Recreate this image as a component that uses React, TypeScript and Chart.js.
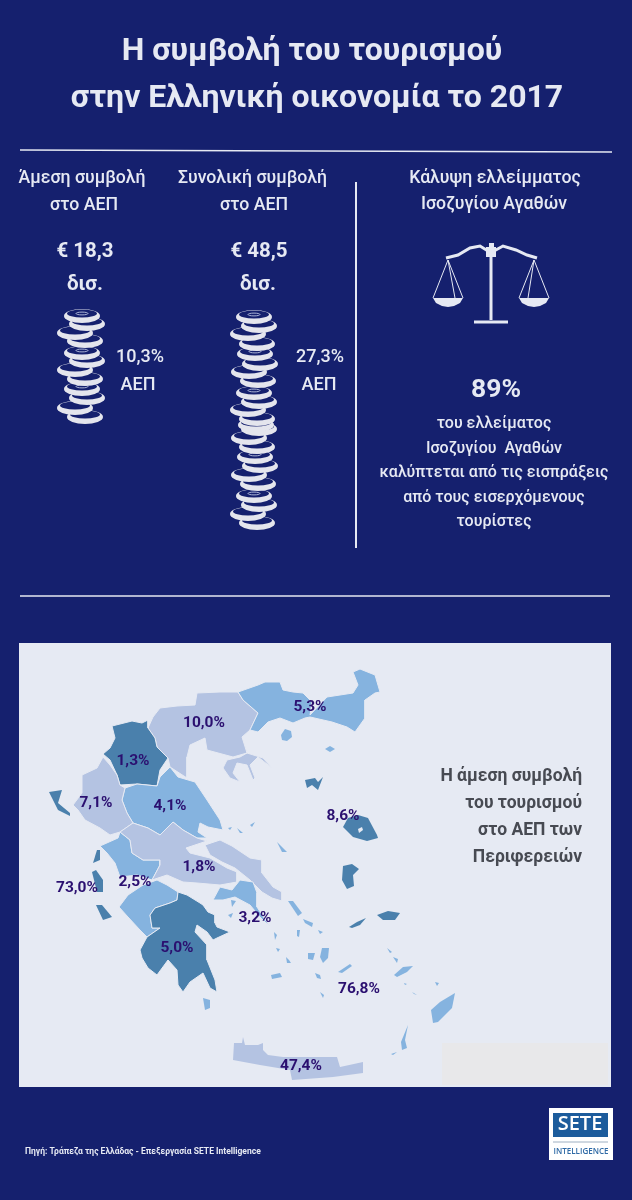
import { useEffect, useRef } from "react";
import { Chart, registerables } from "chart.js";

Chart.register(...registerables);

const BG = "#15206e";
const INK = "#e6e9f3";
const PANEL = "#e6eaf3";
const DARK = "#4a80ac";
const MID = "#85b3df";
const LIGHT = "#b4c3e2";
const LABEL = "#2b1070";

type P = [number, number];

// regional values, one label per region
const regionValues = [10.0, 5.3, 1.3, 7.1, 4.1, 8.6, 1.8, 2.5, 73.0, 3.2, 5.0, 76.8, 47.4];
const regionLabelX = [204, 310, 133, 96, 170, 343, 199, 135, 77, 255, 177, 359, 301];
const regionLabelY = [722, 706, 760, 802, 805, 815, 866, 881, 887, 917, 947, 988, 1065];

// coin stacks (direct 10,3% / total 27,3%)
const coinsDirectX = [82, 87, 75, 85, 82, 87, 75, 85, 82, 87, 75, 85];
const coinsDirectY = [315, 323, 332, 340, 352, 360, 369, 378, 388, 397, 407, 416];
const coinsTotalX = [254, 259, 248, 257, 255, 260, 249, 258, 254, 259, 248, 257, 256, 259, 249, 257, 255, 260, 249, 258, 254, 259, 248, 257];
const coinsTotalY = [316, 325, 333, 343, 353, 363, 371, 380, 392, 401, 409, 418, 424, 428, 437, 446, 456, 465, 474, 483, 495, 504, 513, 522];

// map outlines
const centralMacedonia: P[] = [[148,728],[153,717],[160,708],[177,706],[195,705],[197,693],[220,692],[238,692],[243,700],[258,713],[250,730],[242,737],[247,753],[240,757],[227,760],[223,768],[230,778],[240,782],[233,773],[237,763],[247,765],[253,780],[255,778],[250,765],[258,757],[272,768],[263,758],[247,753],[233,757],[207,750],[205,738],[190,745],[187,757],[187,778],[170,767],[168,758],[157,747],[155,738]];
const eastMacedonia: P[] = [[238,692],[258,685],[265,682],[280,682],[283,690],[293,692],[303,693],[312,702],[310,715],[327,697],[353,693],[358,685],[353,672],[360,669],[375,675],[380,692],[375,693],[365,700],[365,718],[355,732],[347,727],[332,722],[310,717],[305,718],[293,723],[280,718],[268,722],[258,732],[250,730],[258,713],[243,700]];
const westMacedonia: P[] = [[112,726],[120,724],[132,721],[142,723],[148,720],[148,728],[155,738],[157,747],[168,758],[160,770],[157,786],[137,784],[120,785],[117,775],[110,760],[103,754],[110,748],[115,738]];
const thessaly: P[] = [[125,788],[137,784],[157,786],[160,777],[170,767],[178,777],[195,782],[207,800],[220,820],[223,830],[208,827],[200,823],[198,832],[207,838],[197,838],[183,830],[173,822],[160,835],[148,828],[133,823],[127,813],[122,800]];
const epirus: P[] = [[103,757],[110,765],[117,775],[120,785],[125,788],[122,800],[127,813],[133,823],[120,832],[110,835],[100,828],[85,820],[78,810],[73,805],[82,793],[82,775],[97,768]];
const aetolia: P[] = [[100,846],[118,838],[120,832],[130,840],[132,853],[143,860],[160,860],[160,865],[152,880],[137,875],[120,877],[115,863],[107,853]];
const achaia: P[] = [[119,907],[128,895],[143,885],[157,880],[167,885],[178,892],[177,900],[170,903],[155,908],[150,915],[152,928],[160,928],[147,937],[140,930],[128,917]];
const peloponnese: P[] = [[178,892],[187,895],[200,903],[203,905],[208,912],[215,915],[215,923],[217,927],[230,932],[217,938],[213,940],[207,932],[197,925],[195,932],[207,945],[207,960],[215,980],[217,992],[210,988],[203,973],[190,982],[183,992],[178,985],[177,970],[168,960],[157,975],[148,968],[142,958],[140,950],[147,937],[160,928],[152,928],[150,915],[155,908],[170,903],[177,900]];
const centralGreece: P[] = [[133,823],[148,828],[160,835],[173,822],[183,830],[197,838],[207,841],[186,848],[190,853],[210,858],[227,868],[237,872],[237,882],[220,885],[197,883],[183,882],[167,875],[152,880],[160,865],[160,860],[143,860],[132,853],[130,840],[120,832]];
const euboea: P[] = [[205,845],[220,840],[232,846],[250,858],[262,860],[262,873],[273,887],[282,892],[282,901],[272,898],[262,892],[250,880],[235,868],[222,862],[210,855]];
const attica: P[] = [[213,900],[220,887],[232,890],[240,880],[253,882],[257,893],[257,907],[270,927],[260,917],[250,905],[235,897],[223,900]];
const crete: P[] = [[233,1060],[234,1043],[242,1043],[243,1037],[245,1045],[258,1045],[263,1043],[263,1050],[268,1055],[283,1057],[337,1057],[340,1067],[363,1062],[363,1073],[333,1077],[292,1080],[290,1070],[260,1065]];

const darkIslands: P[][] = [
  [[305,780],[315,778],[318,782],[323,777],[318,790],[312,785],[307,788]],
  [[343,827],[348,818],[358,815],[368,818],[377,835],[378,838],[367,841],[353,837]],
  [[343,866],[352,864],[359,869],[353,875],[354,886],[347,889],[342,880]],
  [[377,915],[388,911],[400,913],[395,920],[383,920]],
  [[349,927],[357,922],[366,918],[360,925],[352,928]],
  [[49,792],[62,790],[58,803],[70,813],[70,816],[58,810],[52,798]],
  [[93,863],[97,850],[100,850],[100,860]],
  [[92,872],[96,870],[103,880],[103,892],[97,892]],
  [[96,905],[102,905],[112,917],[103,920]],
];
const midIslands: P[][] = [
  [[281,735],[285,729],[291,731],[292,737],[287,741],[282,740]],
  [[325,749],[330,746],[335,749],[330,752]],
  [[431,1010],[440,1002],[455,993],[452,1008],[438,1022],[433,1023]],
  [[408,1025],[405,1040],[407,1048],[402,1050],[401,1042]],
  [[203,998],[210,1000],[210,1008],[205,1010]],
  [[288,901],[293,901],[302,913],[298,916]],
  [[303,919],[313,923],[312,927],[305,923]],
  [[322,948],[329,948],[328,958],[323,963],[320,957]],
  [[308,953],[315,953],[313,960],[308,959]],
  [[318,930],[323,932],[320,934]],
  [[297,930],[300,930],[299,937],[297,936]],
  [[274,932],[277,935],[275,940]],
  [[276,948],[280,949],[278,952]],
  [[286,957],[289,960],[291,963],[287,963]],
  [[271,975],[280,973],[282,977],[272,979]],
  [[338,972],[350,964],[352,966],[342,973]],
  [[315,973],[320,975],[321,979],[317,978]],
  [[320,992],[324,995],[323,998]],
  [[394,975],[403,967],[413,966],[407,972],[397,977]],
  [[393,957],[398,959],[397,963]],
  [[387,948],[392,952],[390,953]],
  [[228,828],[232,827],[230,830]],
  [[237,828],[243,833],[240,833]],
  [[250,825],[255,822],[252,827]],
  [[277,842],[280,845],[287,852],[282,852]],
  [[231,900],[236,901],[232,907]],
  [[228,915],[233,913],[231,918]],
  [[391,1054],[397,1052],[393,1055]],
  [[435,982],[439,983],[437,986]],
  [[404,983],[407,984],[405,985]],
  [[412,992],[417,995],[414,994]],
];

// balance icon
const beamLeft: P[] = [[446,258],[458,255],[470,248],[480,246],[488,251]];
const beamRight: P[] = [[494,251],[503,246],[516,250],[527,255],[537,258]];
const panLeft: P[] = [[433,298],[463,298],[460,303],[454,306],[448,307],[442,306],[436,303]];
const panRight: P[] = [[519,298],[549,298],[546,303],[540,306],[534,307],[528,306],[522,303]];

type T = [string, number, number, string];
const FONT_HEAD = "500 17.7px Roboto";
const FONT_BIG = "700 20.5px Roboto";
const FONT_SHARE = "500 18px Roboto";
const FONT_BODY = "500 16px Roboto";
const texts: T[] = [
  ["Η συμβολή του τουρισμού", 312, 50, "700 32px Roboto"],
  ["στην Ελληνική οικονομία το 2017", 317, 97, "700 32px Roboto"],
  ["Άμεση συμβολή", 82, 177, FONT_HEAD],
  ["στο ΑΕΠ", 84, 204, FONT_HEAD],
  ["Συνολική συμβολή", 252.5, 177, FONT_HEAD],
  ["στο ΑΕΠ", 254, 204, FONT_HEAD],
  ["€ 18,3", 85, 250, FONT_BIG],
  ["δισ.", 85, 283, FONT_BIG],
  ["€ 48,5", 259, 250, FONT_BIG],
  ["δισ.", 258, 283, FONT_BIG],
  ["10,3%", 140, 356, FONT_SHARE],
  ["ΑΕΠ", 138, 384, FONT_SHARE],
  ["27,3%", 320, 356, FONT_SHARE],
  ["ΑΕΠ", 319, 384, FONT_SHARE],
  ["Κάλυψη ελλείμματος", 495, 177, FONT_HEAD],
  ["Ισοζυγίου Αγαθών", 494, 203, FONT_HEAD],
  ["89%", 496, 389, "700 26.5px Roboto"],
  ["του ελλείματος", 494, 422, FONT_BODY],
  ["Ισοζυγίου  Αγαθών", 494, 447, FONT_BODY],
  ["καλύπτεται από τις εισπράξεις", 494, 471, FONT_BODY],
  ["από τους εισερχόμενους", 494, 496, FONT_BODY],
  ["τουρίστες", 494, 520, FONT_BODY],
];
const mapTitle = ["Η άμεση συμβολή", "του τουρισμού", "στο ΑΕΠ των", "Περιφερειών"];

function makeCoin(marked: boolean) {
  const c = document.createElement("canvas");
  c.width = 40;
  c.height = 20;
  const g = c.getContext("2d")!;
  g.fillStyle = "#e4e5ed";
  g.beginPath();
  g.ellipse(20, 11, 18, 7, 0, 0, Math.PI * 2);
  g.fill();
  g.fillStyle = BG;
  g.beginPath();
  g.ellipse(20, 8.5, 15, 4, 0, 0, Math.PI * 2);
  g.fill();
  if (marked) {
    g.strokeStyle = "#aab3d6";
    g.lineWidth = 1;
    g.beginPath();
    g.ellipse(20, 8.5, 6, 1.4, 0, 0, Math.PI * 2);
    g.stroke();
  }
  return c;
}

const poly = (pts: P[], color: string, stroke = PANEL, w = 1) => ({
  data: [...pts, pts[0]].map(([x, y]) => ({ x, y })),
  showLine: true,
  polyFill: color,
  borderColor: stroke,
  borderWidth: w,
  pointRadius: 0,
  tension: 0,
});
const rect = (x0: number, y0: number, x1: number, y1: number, color: string) =>
  poly([[x0, y0], [x1, y0], [x1, y1], [x0, y1]], color, color, 0);
const line = (pts: P[], color = INK, w = 1.5) => ({
  data: pts.map(([x, y]) => ({ x, y })),
  showLine: true,
  borderColor: color,
  borderWidth: w,
  pointRadius: 0,
  tension: 0,
});

const polyFillPlugin = {
  id: "polyFill",
  beforeDatasetDraw(chart: any, args: any) {
    const ds = chart.data.datasets[args.index];
    if (!ds.polyFill) return;
    const ctx = chart.ctx;
    ctx.save();
    ctx.fillStyle = ds.polyFill;
    ctx.beginPath();
    args.meta.data.forEach((p: any, i: number) => (i ? ctx.lineTo(p.x, p.y) : ctx.moveTo(p.x, p.y)));
    ctx.closePath();
    ctx.fill();
    ctx.restore();
  },
};

const textPlugin = {
  id: "pageText",
  afterDatasetsDraw(chart: any) {
    const { ctx, scales } = chart;
    const put = (s: string, x: number, y: number, font: string, color: string, align: CanvasTextAlign = "center") => {
      ctx.font = font;
      ctx.fillStyle = color;
      ctx.textAlign = align;
      ctx.textBaseline = "middle";
      ctx.fillText(s, scales.x.getPixelForValue(x), scales.y.getPixelForValue(y) + 1.5);
    };
    ctx.save();
    texts.forEach(([s, x, y, f]) => put(s, x, y, f, INK));
    regionValues.forEach((v, i) =>
      put(v.toFixed(1).replace(".", ",") + "%", regionLabelX[i], regionLabelY[i], "700 15.5px Roboto", LABEL)
    );
    mapTitle.forEach((s, i) => put(s, 582, 775 + i * 27, "700 17.5px Roboto", "#474a52", "right"));
    put("Πηγή: Τράπεζα της Ελλάδας - Επεξεργασία SETE Intelligence", 25, 1150, "700 8.5px Roboto", INK, "left");
    put("SETE", 580, 1123, "600 20px 'Open Sans'", "#ffffff");
    put("INTELLIGENCE", 581, 1150, "600 8px 'Open Sans'", "#2f6aa6");
    ctx.restore();
  },
};

export default function App() {
  const ref = useRef<HTMLCanvasElement>(null);

  useEffect(() => {
    if (!ref.current) return;
    const coin = makeCoin(false);
    const coinEuro = makeCoin(true);
    const coinSet = (xs: number[], ys: number[]) => {
      const idx = xs.map((_, i) => i).reverse();
      return {
        data: idx.map((i) => ({ x: xs[i], y: ys[i] })),
        showLine: false,
        pointRadius: 10,
        pointStyle: idx.map((i) => (i % 4 === 0 ? coinEuro : coin)),
      };
    };
    // listed bottom layer first, reversed below because chart.js paints dataset 0 last
    const layers: any[] = [
      rect(19, 643, 611, 1087, PANEL),
      rect(442, 1043, 608, 1085, "#e8e8ea"),
      poly(centralMacedonia, LIGHT),
      poly(eastMacedonia, MID),
      poly(westMacedonia, DARK),
      poly(thessaly, MID),
      poly(epirus, LIGHT),
      poly(aetolia, MID),
      poly(achaia, MID),
      poly(centralGreece, LIGHT),
      poly(euboea, LIGHT),
      poly(attica, MID),
      poly(peloponnese, DARK),
      poly(crete, LIGHT, LIGHT, 0),
      ...darkIslands.map((p) => poly(p, DARK, DARK, 0)),
      ...midIslands.map((p) => poly(p, MID, MID, 0)),
      poly([[358,829],[362,827],[363,830],[359,833]], PANEL, PANEL, 0),
      line([[20, 150], [612, 152]]),
      line([[20, 596], [610, 596]]),
      line([[356, 182], [356, 548]], INK, 2),
      coinSet(coinsDirectX, coinsDirectY),
      coinSet(coinsTotalX, coinsTotalY),
      line(beamLeft, INK, 3),
      line(beamRight, INK, 3),
      line([[491, 250], [491, 320]], INK, 3),
      line([[474, 322], [508, 322]], INK, 3),
      rect(486, 247, 496, 257, INK),
      rect(489, 243, 494, 247, INK),
      line([[448, 260], [433, 298]], INK, 1),
      line([[448, 260], [455, 298]], INK, 1),
      line([[448, 260], [463, 298]], INK, 1),
      line([[534, 260], [519, 298]], INK, 1),
      line([[534, 260], [528, 298]], INK, 1),
      line([[534, 260], [549, 298]], INK, 1),
      poly(panLeft, INK, INK, 0),
      poly(panRight, INK, INK, 0),
      rect(549, 1108, 613, 1160, "#ffffff"),
      rect(553, 1113, 608, 1137, "#1c5c9c"),
      line([[553, 1142], [608, 1142]], "#9fb0c2", 1),
    ];

    const chart = new Chart(ref.current, {
      type: "scatter",
      data: { datasets: layers.reverse() },
      options: {
        responsive: false,
        animation: false,
        devicePixelRatio: 1,
        layout: { padding: 0, autoPadding: false },
        events: [],
        scales: {
          x: { type: "linear", min: 0, max: 632, display: false },
          y: { type: "linear", min: 0, max: 1200, reverse: true, display: false },
        },
        plugins: { legend: { display: false }, tooltip: { enabled: false } },
      },
      plugins: [polyFillPlugin, textPlugin],
    } as any);

    return () => chart.destroy();
  }, []);

  return (
    <>
      <style>{`body{margin:0;background:${BG}}`}</style>
      <canvas ref={ref} width={632} height={1200} style={{ display: "block" }} />
    </>
  );
}
